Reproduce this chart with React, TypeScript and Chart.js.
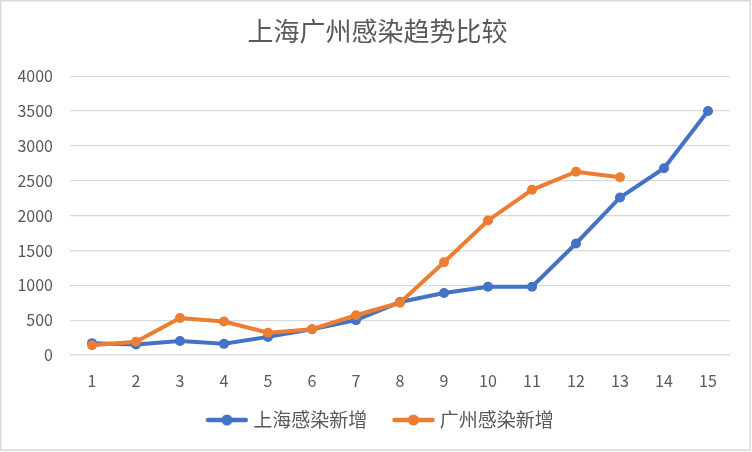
import React, { useEffect, useRef } from "react";
import { Chart, registerables } from "chart.js";

Chart.register(...registerables);

const categories = ["1", "2", "3", "4", "5", "6", "7", "8", "9", "10", "11", "12", "13", "14", "15"];
const shanghai = [170, 150, 200, 160, 260, 370, 500, 760, 890, 980, 980, 1600, 2260, 2680, 3500];
const guangzhou = [140, 190, 530, 480, 320, 370, 570, 750, 1330, 1930, 2370, 2630, 2550, null, null];
const seriesNames = ["上海感染新增", "广州感染新增"];
const colors = ["#4472C4", "#ED7D31"];
const titleText = "上海广州感染趋势比较";

const FONT = "'Noto Sans CJK SC', 'Noto Sans', sans-serif";
const TEXT = "#595959";

// legend icon: line with a dot, drawn in the right part of a wider canvas
function makeIcon(color: string): HTMLCanvasElement {
  const c = document.createElement("canvas");
  c.width = 52;
  c.height = 12;
  const ctx = c.getContext("2d")!;
  const x0 = 9;
  ctx.strokeStyle = color;
  ctx.lineWidth = 4.5;
  ctx.lineCap = "round";
  ctx.beginPath();
  ctx.moveTo(x0 + 2.5, 6);
  ctx.lineTo(x0 + 40.5, 6);
  ctx.stroke();
  ctx.fillStyle = color;
  ctx.beginPath();
  ctx.arc(x0 + 21.5, 6, 5.5, 0, Math.PI * 2);
  ctx.fill();
  return c;
}

const borderPlugin = {
  id: "bgBorder",
  beforeDraw(chart: any) {
    const ctx = chart.ctx;
    ctx.save();
    ctx.fillStyle = "#ffffff";
    ctx.fillRect(0, 0, chart.width, chart.height);
    ctx.strokeStyle = "#d9d9d9";
    ctx.lineWidth = 1.5;
    ctx.strokeRect(0.75, 0.75, 749.5, 449.5);
    ctx.restore();
  },
};

export default function App() {
  const ref = useRef<HTMLCanvasElement | null>(null);
  useEffect(() => {
    document.body.style.margin = "0";
    const icons = colors.map((c) => makeIcon(c));
    const chart = new Chart(ref.current!, {
      type: "line",
      data: {
        labels: categories,
        datasets: [
          {
            label: seriesNames[0],
            data: shanghai,
            borderColor: colors[0],
            backgroundColor: colors[0],
            borderWidth: 4,
            pointRadius: 5,
            pointBorderWidth: 0,
            pointBackgroundColor: colors[0],
            order: 2,
          },
          {
            label: seriesNames[1],
            data: guangzhou,
            borderColor: colors[1],
            backgroundColor: colors[1],
            borderWidth: 4,
            pointRadius: 5,
            pointBorderWidth: 0,
            pointBackgroundColor: colors[1],
            order: 1,
          },
        ],
      },
      options: {
        responsive: false,
        animation: false,
        layout: { padding: { left: 3, right: 0, top: 0, bottom: 12.5 } },
        plugins: {
          title: {
            display: true,
            text: titleText,
            color: TEXT,
            font: { family: FONT, size: 26, weight: "normal" },
            padding: { top: 16, bottom: 29 },
          },
          legend: {
            position: "bottom",
            labels: {
              usePointStyle: true,
              pointStyleWidth: 42.5,
              padding: 20.5,
              color: TEXT,
              font: { family: FONT, size: 19 },
              generateLabels: (chart: any) =>
                chart.data.datasets.map((ds: any, i: number) => ({
                  text: ds.label,
                  fillStyle: colors[i],
                  strokeStyle: colors[i],
                  lineWidth: 0,
                  pointStyle: icons[i],
                  hidden: false,
                  datasetIndex: i,
                  fontColor: TEXT,
                })),
            },
          },
          tooltip: { enabled: false },
        },
        scales: {
          x: {
            offset: true,
            grid: { display: false },
            border: { display: false },
            ticks: { color: TEXT, font: { family: FONT, size: 16 }, padding: 8 },
            afterFit: (s: any) => {
              s.height = 35;
            },
          },
          y: {
            min: 0,
            max: 4000,
            grid: { color: "#d9d9d9", lineWidth: 1.3, drawTicks: false },
            border: { display: false },
            ticks: {
              stepSize: 500,
              color: TEXT,
              font: { family: FONT, size: 16 },
              padding: 17,
              callback: (v: any) => String(v),
            },
            afterFit: (s: any) => {
              s.width = 67;
            },
          },
          yRight: {
            position: "right",
            display: true,
            grid: { display: false },
            border: { display: false },
            ticks: { display: false },
            afterFit: (s: any) => {
              s.width = 22;
            },
          },
        },
      },
      plugins: [borderPlugin],
    });
    return () => chart.destroy();
  }, []);
  return (
    <div style={{ width: 752, height: 452 }}>
      <canvas ref={ref} width={752} height={452} style={{ display: "block" }} />
    </div>
  );
}
